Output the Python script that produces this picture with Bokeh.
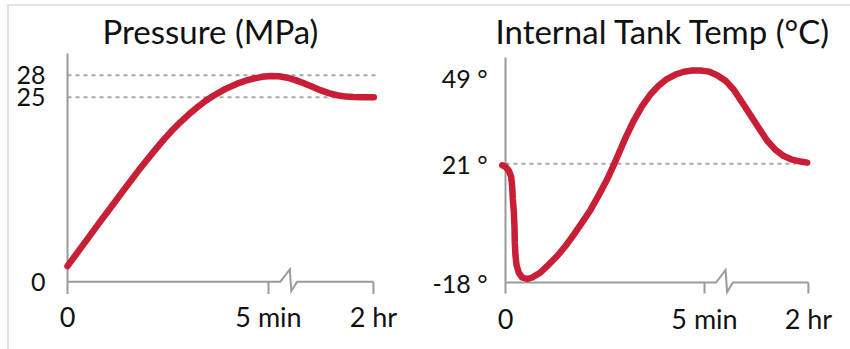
from bokeh.plotting import figure
from bokeh.layouts import row
from bokeh.models import FixedTicker, Range1d
from bokeh.embed import file_html
from bokeh.resources import INLINE

# ---------------- data ----------------
x_ticks = [0, 5, 7.61]
x_tick_labels = ["0", "5 min", "2 hr"]
x_break = 5.53

pressure_title = "Pressure (MPa)"
pressure_ticks = [0, 25, 28]
pressure_tick_labels = ["0", "25", "28"]
pressure_ref = [28, 25]
pressure_ref_end = [7.71, 7.3]
pressure_t = [0, 0.20, 0.53, 0.78, 0.95, 1.15, 1.36, 1.57, 1.77, 1.98, 2.19, 2.40, 2.60,
              2.81, 3.02, 3.23, 3.43, 3.64, 3.93, 4.22, 4.43, 4.63, 4.84, 5.05, 5.26,
              5.47, 5.67, 5.88, 6.09, 6.29, 6.50, 6.71, 6.92, 7.12, 7.37, 7.62]
pressure_mpa = [2.1, 3.6, 6.05, 7.9, 9.15, 10.6, 12.15, 13.65, 15.1, 16.55, 17.95,
                19.3, 20.5, 21.65, 22.7, 23.65, 24.5, 25.25, 26.15, 26.85, 27.25,
                27.55, 27.78, 27.9, 27.86, 27.66, 27.33, 26.9, 26.42, 25.97, 25.57,
                25.28, 25.1, 25.03, 25.0, 25.0]

temp_title = "Internal Tank Temp (\u00b0C)"
temp_ticks = [-18, 21, 49]
temp_tick_labels = ["-18 \u00b0", "21 \u00b0", "49 \u00b0"]
temp_ref = [21]
temp_ref_end = [7.3]
temp_t = [-0.083, 0, 0.083, 0.143, 0.168, 0.183, 0.209, 0.226, 0.234, 0.251, 0.276,
          0.334, 0.420, 0.545, 0.671, 0.879, 1.088, 1.299, 1.508, 1.716, 1.927, 2.136,
          2.344, 2.555, 2.721, 2.889, 3.015, 3.224, 3.435, 3.643, 3.852, 4.063, 4.271,
          4.480, 4.691, 4.899, 5.108, 5.319, 5.528, 5.736, 5.947, 6.156, 6.364, 6.575,
          6.784, 6.993, 7.203, 7.412, 7.581]
temp_c = [20.5, 20.0, 18.74, 16.66, 13.57, 9.45, 5.30, 0.17, -5.0, -9.12, -12.21,
          -14.81, -16.36, -16.85, -16.36, -14.7, -12.1, -9.3, -6.0, -2.3, 1.72,
          5.83, 10.69, 15.9, 20.6, 25.7, 29.5, 35.2, 40.0, 43.8, 46.7, 48.9,
          50.3, 51.2, 51.6, 51.6, 51.26, 50.08, 48.28, 45.30, 41.10, 36.90, 32.74,
          28.54, 25.56, 23.51, 22.33, 21.72, 21.36]

CURVE = "#c81e36"
AXIS = "#9a9a9a"
DASH = "#a8a8a8"
TEXT = "#111111"
FONT = "Lato"

# page frame (screenshot border) offsets
BX, BY = 9, 6
H = 349 - BY


def make_panel(title, xs, ys, yticks, ylabels, refs, ref_ends, geo):
    ox = geo["ox"]
    fl, fr, ft, fb = geo["frame"]
    fl, fr, ft, fb = fl - ox, fr - ox, ft - BY, fb - BY
    x0px, xppu = geo["x0px"] - ox, geo["xppu"]
    ybase, y0px, yppu = geo["ybase"], geo["y0px"] - BY, geo["yppu"]
    W = geo["width"]

    def dx(px):
        return px / xppu

    def dy(px):
        return px / yppu

    p = figure(width=W, height=H, output_backend="svg",
               toolbar_location=None,
               x_range=Range1d((fl - x0px) / xppu, (fr - x0px) / xppu),
               y_range=Range1d(ybase - (fb - y0px) / yppu, ybase + (y0px - ft) / yppu),
               min_border_left=fl, min_border_right=W - fr,
               min_border_top=ft, min_border_bottom=H - fb)
    p.grid.visible = False
    p.outline_line_color = None
    p.background_fill_color = "white"
    p.border_fill_color = "white"

    # title
    p.title.text = title
    p.title.align = "left"
    p.title.text_font = FONT
    p.title.text_font_size = "33px"
    p.title.text_font_style = "normal"
    p.title.text_color = TEXT
    p.title.offset = geo["title_left"] - geo["frame"][0]
    p.title.standoff = 0

    # axes: labels only
    p.xaxis.ticker = FixedTicker(ticks=x_ticks)
    p.xaxis.major_label_overrides = {t: l for t, l in zip(x_ticks, x_tick_labels)}
    p.yaxis.ticker = FixedTicker(ticks=yticks)
    p.yaxis.major_label_overrides = {t: l for t, l in zip(yticks, ylabels)}
    for ax in (p.xaxis, p.yaxis):
        ax.axis_line_color = None
        ax.major_tick_line_color = None
        ax.minor_tick_line_color = None
        ax.major_tick_out = 0
        ax.major_tick_in = 0
        ax.major_label_text_font = FONT
        ax.major_label_text_color = TEXT
    p.xaxis.major_label_text_font_size = "27px"
    p.yaxis.major_label_text_font_size = "25px"
    p.xaxis.major_label_standoff = geo["xstand"]
    p.yaxis.major_label_standoff = geo["ystand"]

    # reference dashed lines
    for r, e in zip(refs, ref_ends):
        p.line([0, e], [r, r], line_color=DASH, line_width=2, line_dash="4 4")

    # drawn y axis (extends below base as the 0 tick)
    tick_len = geo["tick_len"]
    p.line([0, 0], [ybase - dy(tick_len), ybase + dy(geo["ytop"])],
           line_color=AXIS, line_width=2)
    # drawn x axis with break symbol
    bx = [0, x_break - dx(9.5), x_break, x_break + dx(1.5), x_break + dx(7.3), x_ticks[-1]]
    by = [ybase, ybase, ybase + dy(12.5), ybase - dy(9.5), ybase, ybase]
    p.line(bx, by, line_color=AXIS, line_width=2, line_join="miter")
    p.segment(x0=x_ticks[1:], y0=[ybase] * 2, x1=x_ticks[1:],
              y1=[ybase - dy(tick_len)] * 2, line_color=AXIS, line_width=2)

    # curve
    p.line(xs, ys, line_color=CURVE, line_width=6.5, line_cap="round", line_join="round")
    return p


# geometry in page pixels
geo_left = dict(ox=BX, width=425 - BX, frame=(55, 385, 50, 300), x0px=67, xppu=40.2,
                ybase=0, y0px=284, yppu=7.464, tick_len=12.5, ytop=231,
                title_left=102, xstand=2, ystand=10)
geo_right = dict(ox=425, width=425, frame=(493, 820, 50, 297), x0px=505, xppu=39.8,
                 ybase=-18, y0px=282, yppu=3.045, tick_len=11, ytop=225,
                 title_left=495, xstand=4, ystand=6)

p1 = make_panel(pressure_title, pressure_t, pressure_mpa, pressure_ticks,
                pressure_tick_labels, pressure_ref, pressure_ref_end, geo_left)
p2 = make_panel(temp_title, temp_t, temp_c, temp_ticks, temp_tick_labels,
                temp_ref, temp_ref_end, geo_right)

layout = row(p1, p2, styles={"margin-left": "7px", "margin-top": "4px",
                             "border-top": "2px solid #e2e2e2",
                             "border-left": "2px solid #e2e2e2"})
open("out.html", "w").write(file_html(layout, INLINE))
